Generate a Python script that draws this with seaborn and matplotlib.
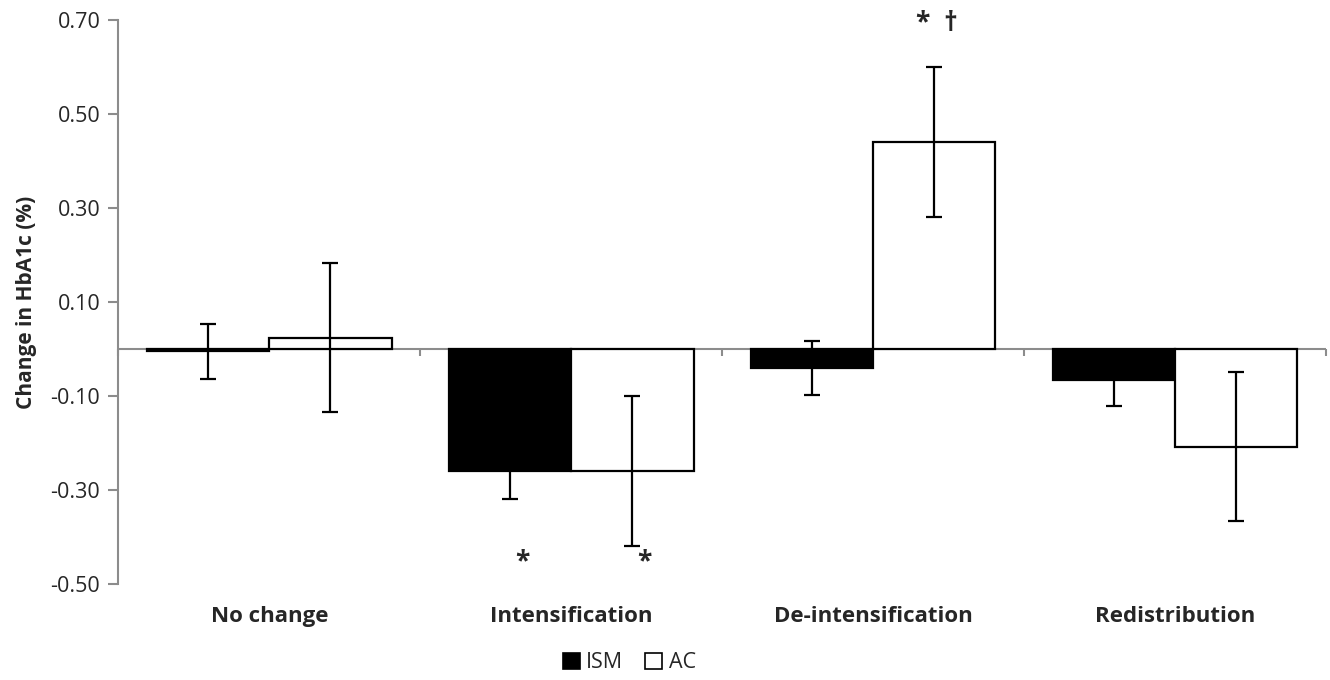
import numpy as np
import pandas as pd
import matplotlib
matplotlib.use('Agg')
import matplotlib.pyplot as plt
import seaborn as sns
from matplotlib.patches import Patch

categories = ['No change', 'Intensification', 'De-intensification', 'Redistribution']
groups = ['ISM', 'AC']
ism_mean = [-0.005, -0.26, -0.04, -0.065]
ism_err = [0.058, 0.058, 0.057, 0.057]
ac_mean = [0.024, -0.26, 0.44, -0.208]
ac_err = [0.158, 0.16, 0.16, 0.158]

# significance marks: (group, category, text, y)
note_group = ['ISM', 'AC', 'AC']
note_cat = ['Intensification', 'Intensification', 'De-intensification']
note_text = ['*', '*', '*  \u2020']
note_y = [-0.452, -0.452, 0.692]

yticks = [-0.50, -0.30, -0.10, 0.10, 0.30, 0.50, 0.70]

sns.set_style('white')
plt.rcParams['font.family'] = ['Open Sans', 'DejaVu Sans']

df = pd.DataFrame({
    'category': categories * 2,
    'group': ['ISM'] * len(categories) + ['AC'] * len(categories),
    'change': ism_mean + ac_mean,
})
errs = {'ISM': ism_err, 'AC': ac_err}
means = {'ISM': ism_mean, 'AC': ac_mean}

fig, ax = plt.subplots(figsize=(13.3, 6.8), dpi=100)
fig.subplots_adjust(left=0.089, right=0.997, top=0.971, bottom=0.141)

gray = '#8c8c8c'
ax.axhline(0, color=gray, lw=1.5, zorder=0.5)

sns.barplot(data=df, x='category', y='change', hue='group', order=categories,
            hue_order=groups, palette={'ISM': 'black', 'AC': 'white'},
            edgecolor='black', linewidth=1.6, width=0.81, errorbar=None,
            legend=False, ax=ax, zorder=2)

centers = {}
for g, cont in zip(groups, ax.containers):
    for cat, bar, m, e in zip(categories, cont.patches, means[g], errs[g]):
        cx = bar.get_x() + bar.get_width() / 2
        centers[(g, cat)] = cx
        ax.errorbar(cx, m, yerr=e, fmt='none', ecolor='black', elinewidth=1.6,
                    capsize=6, capthick=1.6, zorder=3)

for g, cat, t, y in zip(note_group, note_cat, note_text, note_y):
    cx = centers[(g, cat)]
    dx = 0.04 if t == '*' else 0.01
    ax.text(cx + dx, y, t, ha='center', va='center', fontsize=19,
            fontweight='bold', clip_on=False)

# category boundary ticks on the zero line
bounds = np.arange(len(categories) + 1) - 0.5
ax.vlines(bounds, 0, -0.014, color=gray, lw=1.5, clip_on=False, zorder=0.5)

ax.set_xlim(-0.5, len(categories) - 0.5)
ax.set_ylim(-0.5, 0.7)
ax.set_yticks(yticks)
ax.set_yticklabels([f'{v:.2f}' for v in yticks], fontsize=15.5)
ax.set_ylabel('Change in HbA1c (%)', fontsize=15, fontweight='bold', labelpad=10)
ax.set_xlabel('')
ax.tick_params(axis='x', length=0, pad=16, labelsize=16)
for lab in ax.get_xticklabels():
    lab.set_fontweight('bold')
ax.tick_params(axis='y', direction='out', length=7, width=1.5, color=gray,
               left=True, pad=6)
for s in ['top', 'right', 'bottom']:
    ax.spines[s].set_visible(False)
ax.spines['left'].set_color(gray)
ax.spines['left'].set_linewidth(1.5)

handles = [Patch(facecolor='black', edgecolor='black', lw=1.2),
           Patch(facecolor='white', edgecolor='black', lw=1.2)]
fig.legend(handles, groups, loc='center', bbox_to_anchor=(0.473, 0.025),
           ncol=2, frameon=False, fontsize=15.5, handlelength=0.8,
           handleheight=0.8, handletextpad=0.3, columnspacing=1.0)

fig.savefig('out.png', dpi=100)
